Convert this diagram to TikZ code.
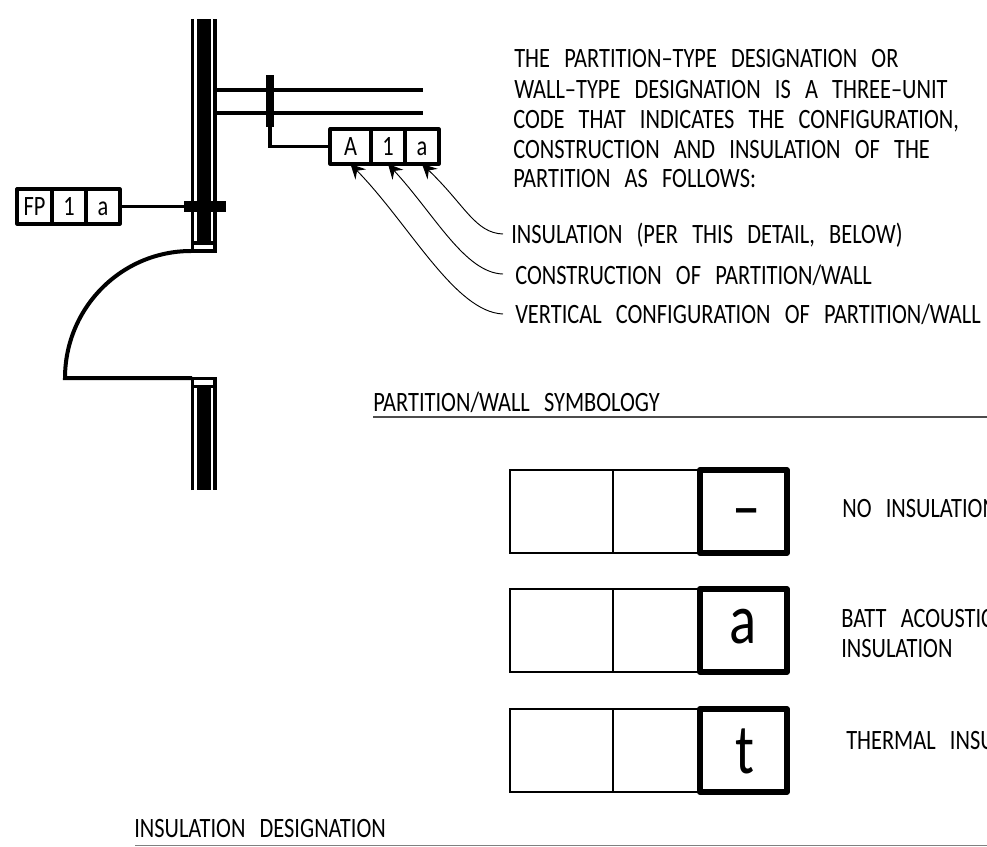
\documentclass[tikz,border=0pt]{standalone}
\usepackage{fontspec}
\setmainfont[WordSpace=2.8,FakeStretch=0.8]{Carlito}
\usetikzlibrary{arrows.meta}

\newcommand{\lblsize}{\fontsize{21}{21}\selectfont}
\newcommand{\bigsize}{\fontsize{53}{53}\selectfont}

\tikzset{
    lbl/.style={anchor=base west, inner sep=0pt, font=\lblsize},
    tagcell/.style={draw, line width=2.4pt, line join=round, inner sep=0pt, outer sep=0pt, font=\lblsize, anchor=north west,
        minimum height=26.25pt, text height=14pt, text depth=0pt},
    plaincell/.style={draw, line width=1.4pt, inner sep=0pt, outer sep=0pt, anchor=north west, minimum height=62.25pt},
    heavycell/.style={draw, line width=4.5pt, line join=round, inner sep=0pt, outer sep=0pt, anchor=north west, minimum width=65pt, minimum height=62.25pt},
    symtxt/.style={anchor=base, inner sep=0pt, font=\bigsize},
    wallline/.style={line width=2.4pt},
    leader/.style={line width=0.7pt, -{Stealth[length=11pt, width=11pt, inset=4pt]}},
}

\begin{document}
\begin{tikzpicture}[x=0.75pt, y=-0.75pt]
    \useasboundingbox (0,0) rectangle (987,846);
    \clip (0,0) rectangle (987,846);

    % upper wall
    \fill (197,19) rectangle (211,243);
    \draw[wallline] (192.8,19) -- (192.8,251) -- (215,251) -- (215,19);
    \draw[wallline] (192.8,243) -- (215,243);
    % lower wall
    \fill (197,387) rectangle (211,490);
    \draw[wallline] (192.8,490) -- (192.8,378.5) -- (215,378.5) -- (215,490);
    \draw[wallline] (192.8,386.5) -- (215,386.5);
    % door
    \draw[line width=3pt] (191,251) arc (270:180:126 and 127) -- (192,378);

    % partition
    \draw[wallline] (215,90) -- (423,90);
    \draw[wallline] (215,113) -- (423,113);
    \node[fill=black, inner sep=0pt, outer sep=0pt, minimum width=6pt, minimum height=39pt] (pbar) at (270,101) {};
    \node[fill=black, inner sep=0pt, outer sep=0pt, minimum width=31.5pt, minimum height=8pt] (fbar) at (205,206.5) {};

    % door tag
    \node[tagcell, minimum width=26.25pt] (fa) at (17,189) {FP};
    \node[tagcell, minimum width=25.5pt] (fb) at (52,189) {1};
    \node[tagcell, minimum width=25.5pt] (fc) at (86,189) {a};
    \draw[wallline] (fc.east) -- (fbar.west);

    % partition tag
    \node[tagcell, minimum width=30.75pt] (pa) at (330,129) {A};
    \node[tagcell, minimum width=25.5pt] (pb) at (371,129) {1};
    \node[tagcell, minimum width=25.5pt] (pc) at (405,129) {a};
    \draw[wallline] (pbar.south) |- (pa.west);

    % text
    \node[lbl] (intro1) at (514,67) {THE PARTITION--TYPE DESIGNATION OR};
    \node[lbl] (intro2) at (514,98) {WALL--TYPE DESIGNATION IS A THREE--UNIT};
    \node[lbl] (intro3) at (513,128) {CODE THAT INDICATES THE CONFIGURATION,};
    \node[lbl] (intro4) at (513,158) {CONSTRUCTION AND INSULATION OF THE};
    \node[lbl] (intro5) at (513,187) {PARTITION AS FOLLOWS:};
    \node[lbl] (insul) at (511,243) {INSULATION (PER THIS DETAIL, BELOW)};
    \node[lbl] (constr) at (515,284) {CONSTRUCTION OF PARTITION/WALL};
    \node[lbl] (vert) at (515,323) {VERTICAL CONFIGURATION OF PARTITION/WALL};

    \coordinate (i0) at (503,234);
    \coordinate (c0) at (503,274);
    \coordinate (v0) at (503,314);
    \draw[leader] (i0) .. controls (475,233) and (465,205) .. (pc.south);
    \draw[leader] (c0) .. controls (465,273) and (435,215) .. (pb.south);
    \draw[leader] (v0) .. controls (455,312) and (410,225) .. (pa.south);

    % symbology
    \node[lbl] (symtitle) at (373,411) {PARTITION/WALL SYMBOLOGY};
    \coordinate (symstart) at (373,417);
    \coordinate (symend) at (987,417);
    \draw[line width=0.8pt, black!70] (symstart) -- (symend);

    \foreach \y/\symy/\symx/\sym/\nm in {470/530/747/{--}/no, 589/643/743/a/batt, 709/773/745/t/therm} {
        \node[plaincell, minimum width=77.25pt] (\nm a) at (510,\y) {};
        \node[plaincell, minimum width=65pt] (\nm b) at (613,\y) {};
        \node[heavycell] (\nm c) at (700,\y) {};
        \node[symtxt] (\nm s) at (\symx,\symy) {\sym};
    }
    \node[lbl] (notxt) at (842,517) {NO INSULATION};
    \node[lbl] (batt1) at (841,627) {BATT ACOUSTIC};
    \node[lbl] (batt2) at (841,657) {INSULATION};
    \node[lbl] (thermtxt) at (846,749) {THERMAL INSULATION};

    \node[lbl] (institle) at (134,837) {INSULATION DESIGNATION};
    \coordinate (insstart) at (135,845);
    \coordinate (insend) at (987,845);
    \draw[line width=0.6pt, black!50] (insstart) -- (insend);
\end{tikzpicture}
\end{document}
